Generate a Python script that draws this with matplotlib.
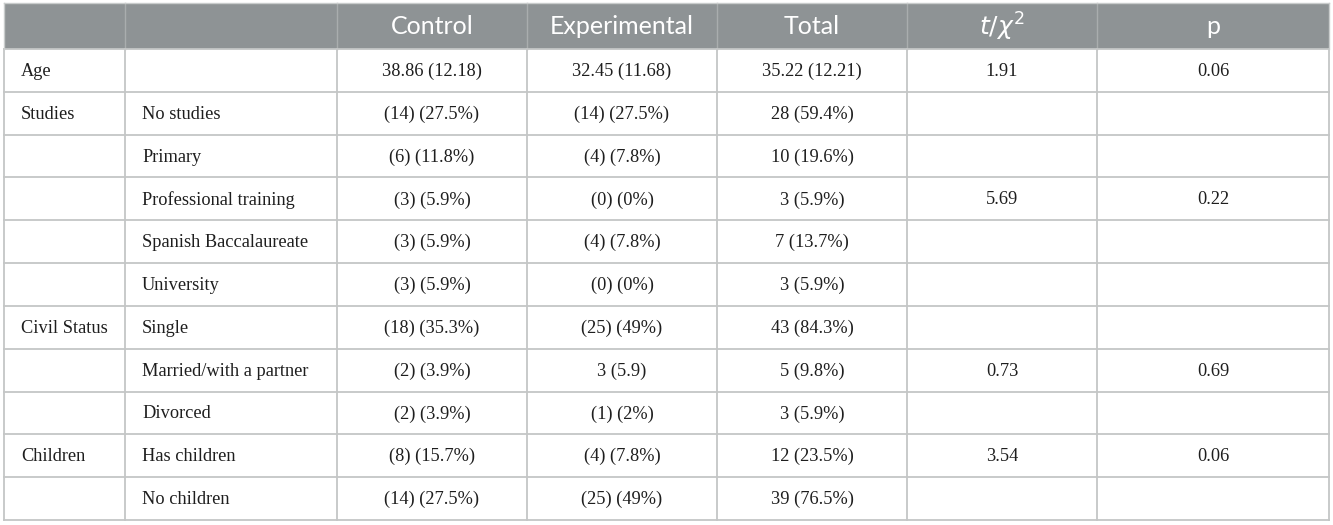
import matplotlib
matplotlib.use("Agg")
import matplotlib.pyplot as plt
from matplotlib.patches import Rectangle

headers = ["", "", "Control", "Experimental", "Total", r"$t/\chi^2$", "p"]
groups = ["Age", "Studies", "", "", "", "", "Civil Status", "", "", "Children", ""]
levels = ["", "No studies", "Primary", "Professional training", "Spanish Baccalaureate",
          "University", "Single", "Married/with a partner", "Divorced", "Has children", "No children"]
control = ["38.86 (12.18)", "(14) (27.5%)", "(6) (11.8%)", "(3) (5.9%)", "(3) (5.9%)",
           "(3) (5.9%)", "(18) (35.3%)", "(2) (3.9%)", "(2) (3.9%)", "(8) (15.7%)", "(14) (27.5%)"]
experimental = ["32.45 (11.68)", "(14) (27.5%)", "(4) (7.8%)", "(0) (0%)", "(4) (7.8%)",
                "(0) (0%)", "(25) (49%)", "3 (5.9)", "(1) (2%)", "(4) (7.8%)", "(25) (49%)"]
total = ["35.22 (12.21)", "28 (59.4%)", "10 (19.6%)", "3 (5.9%)", "7 (13.7%)",
         "3 (5.9%)", "43 (84.3%)", "5 (9.8%)", "3 (5.9%)", "12 (23.5%)", "39 (76.5%)"]
stat = ["1.91", "", "", "5.69", "", "", "", "0.73", "", "3.54", ""]
pval = ["0.06", "", "", "0.22", "", "", "", "0.69", "", "0.06", ""]

W, H = 1333, 525
fig = plt.figure(figsize=(W / 100, H / 100), dpi=100)
ax = fig.add_axes([0, 0, 1, 1])
ax.set_xlim(0, W)
ax.set_ylim(H, 0)
ax.axis("off")

col_x = [4, 125, 337, 527, 717, 907, 1097, 1329]
top, head_bot, bottom = 3, 49, 520
n = len(levels)
rh = (bottom - head_bot) / n
row_y = [head_bot + i * rh for i in range(n + 1)]

header_color = "#8e9395"
line_color = "#c4c6c6"
ax.add_patch(Rectangle((col_x[0], top), col_x[-1] - col_x[0], head_bot - top,
                       facecolor=header_color, edgecolor="none", zorder=1))

# header separators
for x in col_x[1:-1]:
    ax.plot([x, x], [top, head_bot], color="#a9adae", lw=1, zorder=2)
# body grid
for y in row_y:
    ax.plot([col_x[0], col_x[-1]], [y, y], color=line_color, lw=1.3, zorder=2)
for x in col_x:
    ax.plot([x, x], [head_bot, bottom], color=line_color, lw=1.3, zorder=2)
ax.plot([col_x[0], col_x[-1]], [top, top], color="#c9cccc", lw=1, zorder=2)
ax.plot([col_x[0], col_x[0]], [top, head_bot], color="#c9cccc", lw=1, zorder=2)
ax.plot([col_x[-1], col_x[-1]], [top, head_bot], color="#c9cccc", lw=1, zorder=2)

# header text
for j, h in enumerate(headers):
    if not h:
        continue
    cx = (col_x[j] + col_x[j + 1]) / 2
    ax.text(cx, (top + head_bot) / 2 + 1, h, ha="center", va="center", color="white",
            fontsize=18, family="Lato", zorder=3)

serif = "Liberation Serif"
fs = 13.2
cols = [groups, levels, control, experimental, total, stat, pval]
for i in range(n):
    cy = (row_y[i] + row_y[i + 1]) / 2 + 1
    for j, col in enumerate(cols):
        t = col[i]
        if not t:
            continue
        if j < 2:
            ax.text(col_x[j] + 17, cy, t, ha="left", va="center", fontsize=fs,
                    family=serif, color="#1e1e1e", zorder=3)
        else:
            cx = (col_x[j] + col_x[j + 1]) / 2
            ax.text(cx, cy, t, ha="center", va="center", fontsize=fs,
                    family=serif, color="#1e1e1e", zorder=3)

fig.savefig("out.png", dpi=100, facecolor="white")
